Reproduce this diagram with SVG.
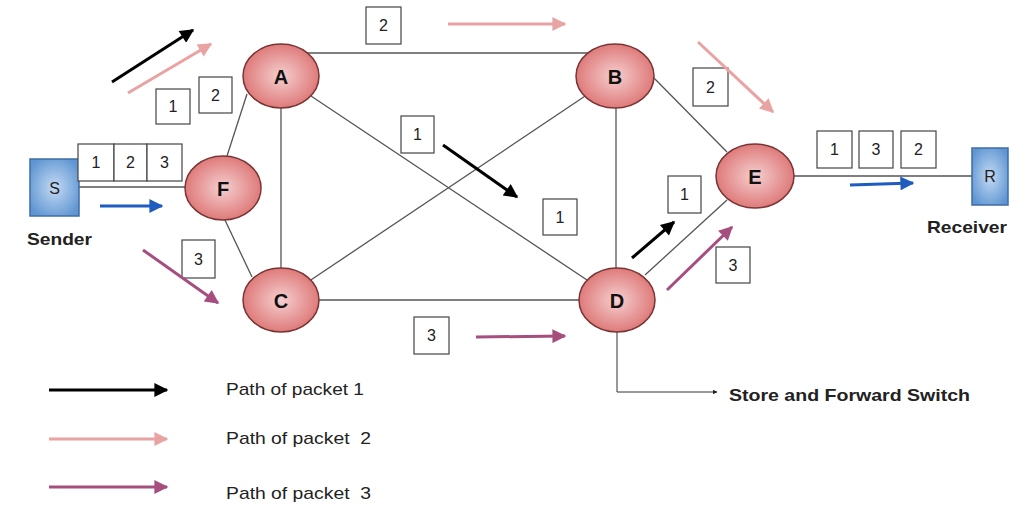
<svg xmlns="http://www.w3.org/2000/svg" width="1026" height="506" viewBox="0 0 1026 506">
<defs>
<radialGradient id="ng" cx="50%" cy="50%" r="55%"><stop offset="0" stop-color="#f6cfcf"/><stop offset="1" stop-color="#dc7272"/></radialGradient>
<radialGradient id="bg" cx="50%" cy="50%" r="60%"><stop offset="0" stop-color="#c3daf3"/><stop offset="1" stop-color="#5f95d2"/></radialGradient>
<marker id="mk" viewBox="0 0 10 10" refX="9" refY="5" markerWidth="16" markerHeight="14" markerUnits="userSpaceOnUse" orient="auto"><path d="M0,0 L10,5 L0,10 Z" fill="#000"/></marker>
<marker id="mp" viewBox="0 0 10 10" refX="9" refY="5" markerWidth="16" markerHeight="14" markerUnits="userSpaceOnUse" orient="auto"><path d="M0,0 L10,5 L0,10 Z" fill="#e9a3a3"/></marker>
<marker id="mu" viewBox="0 0 10 10" refX="9" refY="5" markerWidth="16" markerHeight="14" markerUnits="userSpaceOnUse" orient="auto"><path d="M0,0 L10,5 L0,10 Z" fill="#a64f7f"/></marker>
<marker id="mb" viewBox="0 0 10 10" refX="9" refY="5" markerWidth="16" markerHeight="14" markerUnits="userSpaceOnUse" orient="auto"><path d="M0,0 L10,5 L0,10 Z" fill="#1f5cbf"/></marker>
<marker id="ms" viewBox="0 0 10 10" refX="9" refY="5" markerWidth="5" markerHeight="5" markerUnits="userSpaceOnUse" orient="auto"><path d="M0,0 L10,5 L0,10 Z" fill="#222"/></marker>
</defs>
<style>
.edge{stroke:#555;stroke-width:1.3;fill:none}
.node{fill:url(#ng);stroke:#7a3434;stroke-width:1.5}
.host{fill:url(#bg);stroke:#3e6ea5;stroke-width:1.5}
.nl{font-family:"Liberation Sans",Arial,sans-serif;font-weight:bold;font-size:20px;fill:#111;text-anchor:middle;dominant-baseline:central}
.hl{font-family:"Liberation Sans",Arial,sans-serif;font-size:16px;fill:#222;text-anchor:middle;dominant-baseline:central}
.pk{fill:#fff;stroke:#444;stroke-width:1.2}
.pt{font-family:"Liberation Sans",Arial,sans-serif;font-size:16px;fill:#222;text-anchor:middle;dominant-baseline:central}
.lb{font-family:"Liberation Sans",Arial,sans-serif;font-weight:bold;font-size:17px;fill:#222}
.lg{font-family:"Liberation Sans",Arial,sans-serif;font-size:17px;fill:#222;white-space:pre}
.a1{stroke:#000;stroke-width:3;marker-end:url(#mk)}
.a2{stroke:#e9a3a3;stroke-width:3;marker-end:url(#mp)}
.a3{stroke:#a64f7f;stroke-width:3;marker-end:url(#mu)}
.ab{stroke:#1f5cbf;stroke-width:3;marker-end:url(#mb)}
</style>
<rect width="1026" height="506" fill="#fff"/>
<g id="connectors">
<line class="edge" x1="79" y1="187" x2="186" y2="187"/>
<line class="edge" x1="247" y1="94" x2="227" y2="156"/>
<line class="edge" x1="281" y1="100" x2="281" y2="270"/>
<line class="edge" x1="300" y1="53" x2="600" y2="53"/>
<line class="edge" x1="281" y1="76" x2="617" y2="300"/>
<line class="edge" x1="615" y1="76" x2="281" y2="300"/>
<line class="edge" x1="616" y1="100" x2="616" y2="280"/>
<line class="edge" x1="650" y1="74" x2="727" y2="152"/>
<line class="edge" x1="645" y1="275" x2="727" y2="200"/>
<line class="edge" x1="224" y1="218" x2="252" y2="277"/>
<line class="edge" x1="300" y1="300" x2="600" y2="300"/>
<line class="edge" x1="780" y1="176" x2="973" y2="176"/>
<polyline class="edge" points="617,332 617,392 717,392" style="stroke:#333;stroke-width:1;marker-end:url(#ms)"/>
</g>
<g id="node-S"><rect class="host" x="30" y="159" width="49" height="57"/><text class="hl" x="54.5" y="188">S</text></g>
<g id="node-R"><rect class="host" x="972" y="148" width="36" height="57"/><text class="hl" x="990" y="176">R</text></g>
<g id="node-A"><ellipse class="node" cx="281" cy="76" rx="38" ry="32"/><text class="nl" x="281" y="77">A</text></g>
<g id="node-B"><ellipse class="node" cx="615" cy="76" rx="39" ry="32"/><text class="nl" x="615" y="77">B</text></g>
<g id="node-F"><ellipse class="node" cx="223" cy="188" rx="38" ry="32"/><text class="nl" x="223" y="189">F</text></g>
<g id="node-C"><ellipse class="node" cx="281" cy="300" rx="38" ry="32"/><text class="nl" x="281" y="301">C</text></g>
<g id="node-D"><ellipse class="node" cx="617" cy="300" rx="38" ry="32"/><text class="nl" x="617" y="301">D</text></g>
<g id="node-E"><ellipse class="node" cx="755" cy="176" rx="39" ry="32"/><text class="nl" x="755" y="177">E</text></g>
<g id="packets">
<rect class="pk" x="78" y="144" width="36" height="37"/><text class="pt" x="96" y="162">1</text>
<rect class="pk" x="114" y="144" width="33" height="37"/><text class="pt" x="130.5" y="162">2</text>
<rect class="pk" x="147" y="144" width="35" height="37"/><text class="pt" x="164.5" y="162">3</text>
<rect class="pk" x="156" y="89" width="34" height="35"/><text class="pt" x="173" y="106">1</text>
<rect class="pk" x="199" y="77" width="33" height="36"/><text class="pt" x="215.5" y="95">2</text>
<rect class="pk" x="366" y="7" width="35" height="37"/><text class="pt" x="383.5" y="25">2</text>
<rect class="pk" x="401" y="116" width="33" height="37"/><text class="pt" x="417.5" y="134">1</text>
<rect class="pk" x="543" y="199" width="34" height="36"/><text class="pt" x="560" y="217">1</text>
<rect class="pk" x="693" y="68" width="35" height="38"/><text class="pt" x="710.5" y="87">2</text>
<rect class="pk" x="668" y="176" width="33" height="37"/><text class="pt" x="684.5" y="194">1</text>
<rect class="pk" x="716" y="247" width="34" height="36"/><text class="pt" x="733" y="265">3</text>
<rect class="pk" x="182" y="240" width="33" height="38"/><text class="pt" x="198.5" y="259">3</text>
<rect class="pk" x="414" y="317" width="35" height="37"/><text class="pt" x="431.5" y="335">3</text>
<rect class="pk" x="817" y="131" width="35" height="37"/><text class="pt" x="834.5" y="149">1</text>
<rect class="pk" x="859" y="131" width="34" height="37"/><text class="pt" x="876" y="149">3</text>
<rect class="pk" x="901" y="131" width="35" height="37"/><text class="pt" x="918.5" y="149">2</text>
</g>
<g id="path-arrows">
<line class="a1" x1="112" y1="82" x2="193" y2="30"/>
<line class="a2" x1="128" y1="93" x2="211" y2="44"/>
<line class="ab" x1="100" y1="206" x2="162" y2="206"/>
<line class="a2" x1="448" y1="24" x2="565" y2="24"/>
<line class="a1" x1="443" y1="145" x2="517" y2="197"/>
<line class="a2" x1="698" y1="42" x2="773" y2="112"/>
<line class="a1" x1="632" y1="258" x2="674" y2="222"/>
<line class="a3" x1="667" y1="290" x2="732" y2="227"/>
<line class="a3" x1="143" y1="250" x2="218" y2="303"/>
<line class="a3" x1="476" y1="337" x2="565" y2="336"/>
<line class="ab" x1="850" y1="185" x2="913" y2="183"/>
</g>
<g id="labels">
<text class="lb" x="27" y="245" textLength="65" lengthAdjust="spacingAndGlyphs">Sender</text>
<text class="lb" x="927" y="233" textLength="80" lengthAdjust="spacingAndGlyphs">Receiver</text>
<text class="lb" x="729" y="401" textLength="241" lengthAdjust="spacingAndGlyphs">Store and Forward Switch</text>
</g>
<g id="legend">
<line class="a1" x1="49" y1="390" x2="167" y2="390"/>
<line class="a2" x1="49" y1="439" x2="167" y2="439"/>
<line class="a3" x1="49" y1="487" x2="167" y2="487"/>
<text class="lg" x="226" y="395" textLength="138" lengthAdjust="spacingAndGlyphs">Path of packet 1</text>
<text class="lg" x="226" y="444" xml:space="preserve" textLength="145" lengthAdjust="spacingAndGlyphs">Path of packet  2</text>
<text class="lg" x="226" y="499" xml:space="preserve" textLength="145" lengthAdjust="spacingAndGlyphs">Path of packet  3</text>
</g>
</svg>
